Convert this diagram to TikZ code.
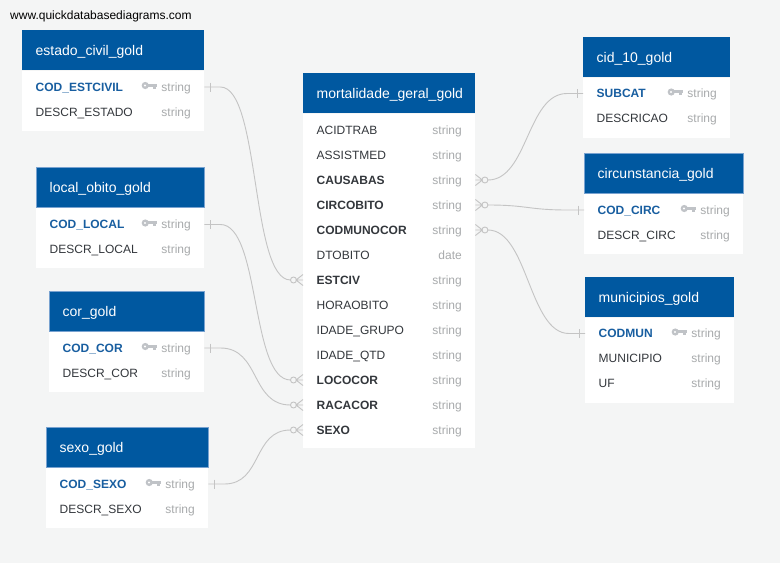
\documentclass[tikz,border=0pt]{standalone}
\usepackage{fontspec}
\setmainfont{Liberation Sans}
\usetikzlibrary{calc}
\definecolor{bg}{RGB}{244,245,245}
\definecolor{hdrblue}{RGB}{0,88,160}
\definecolor{hdredge}{RGB}{120,162,208}
\definecolor{pkblue}{RGB}{24,94,160}
\definecolor{fldtxt}{RGB}{51,55,60}
\definecolor{typgray}{RGB}{168,170,172}
\definecolor{keygray}{RGB}{192,195,199}
\definecolor{conngray}{RGB}{196,196,196}
\newcommand\tbl[7]{%
  \node[#7, minimum width=#4, anchor=north west] (#1h) at (#2,#3) {};
  \node[title, anchor=west] (#1n) at ([xshift=13.5]#1h.west) {#6};
  \node[bodyb, minimum width=#4, minimum height=#5, anchor=north west] (#1b) at (#1h.south west) {};}
\newcommand\frow[7]{%
  \node[#1, anchor=west] (#2) at (#3,#5) {#6};
  \node[typ, anchor=east] (#2t) at (#4,#5) {#7};}
\newcommand\pkrow[6]{\frow{pk}{#1}{#2}{#3}{#4}{#5}{#6}\pic at ([xshift=-16,yshift=1.5]#1t.west) {keyicon};}
\begin{document}
\begin{tikzpicture}[x=1pt,y=-1pt,
  hdr/.style={fill=hdrblue, inner sep=0, minimum height=40},
  hdrE/.style={hdr, draw=hdredge, line width=0.8pt},
  title/.style={text=white, font=\fontsize{14}{16}\selectfont, inner sep=0, text height=10pt, text depth=0pt},
  bodyb/.style={fill=white, inner sep=0},
  fn/.style={text=fldtxt, font=\fontsize{12}{14}\selectfont, inner sep=0, text height=8.6pt, text depth=0pt},
  fk/.style={fn, font=\fontsize{12}{14}\selectfont\bfseries},
  pk/.style={fk, text=pkblue},
  typ/.style={fn, text=typgray},
  conn/.style={draw=conngray, line width=0.9pt},
  keyicon/.pic={
    \fill[keygray] (0,0) circle (3.6pt);
    \fill[white] (-0.3,0) circle (1.2pt);
    \fill[keygray] (2,-1.6) rectangle (12,1.4);
    \fill[keygray] (8,0) rectangle (11,3.4);},
  manymark/.pic={
    \draw[conn] (0,-5.5) -- (7,0) -- (0,5.5) (0,0) -- (6.5,0);
    \draw[conn] (9.5,0) circle (3pt);}
]
\fill[bg] (0,0) rectangle (780,563);
\useasboundingbox (0,0) rectangle (780,563);

\node[anchor=base west, inner sep=0, font=\fontsize{12}{14}\selectfont, text=black] (wm) at (10,19.5) {www.quickdatabasediagrams.com};

% estado_civil_gold
\tbl{ec}{22}{30}{182}{60}{estado\_civil\_gold}{hdr}
\pkrow{ec1}{35.5}{191}{87}{COD\_ESTCIVIL}{string}
\frow{fn}{ec2}{35.5}{191}{112}{DESCR\_ESTADO}{string}

% local_obito_gold
\tbl{lo}{36}{167}{168}{60}{local\_obito\_gold}{hdrE}
\pkrow{lo1}{49.5}{191}{224.5}{COD\_LOCAL}{string}
\frow{fn}{lo2}{49.5}{191}{249.5}{DESCR\_LOCAL}{string}

% cor_gold
\tbl{co}{49}{291}{155}{60}{cor\_gold}{hdrE}
\pkrow{co1}{62.5}{191}{348}{COD\_COR}{string}
\frow{fn}{co2}{62.5}{191}{373}{DESCR\_COR}{string}

% sexo_gold
\tbl{sx}{46}{427}{162}{60}{sexo\_gold}{hdrE}
\pkrow{sx1}{59.5}{195}{484}{COD\_SEXO}{string}
\frow{fn}{sx2}{59.5}{195}{509}{DESCR\_SEXO}{string}

% mortalidade_geral_gold
\tbl{mg}{303}{73}{172}{334}{mortalidade\_geral\_gold}{hdr}
\frow{fn}{mg1}{316.5}{462}{130}{ACIDTRAB}{string}
\frow{fn}{mg2}{316.5}{462}{155}{ASSISTMED}{string}
\frow{fk}{mg3}{316.5}{462}{180}{CAUSABAS}{string}
\frow{fk}{mg4}{316.5}{462}{205}{CIRCOBITO}{string}
\frow{fk}{mg5}{316.5}{462}{230}{CODMUNOCOR}{string}
\frow{fn}{mg6}{316.5}{462}{255}{DTOBITO}{date}
\frow{fk}{mg7}{316.5}{462}{280}{ESTCIV}{string}
\frow{fn}{mg8}{316.5}{462}{305}{HORAOBITO}{string}
\frow{fn}{mg9}{316.5}{462}{330}{IDADE\_GRUPO}{string}
\frow{fn}{mg10}{316.5}{462}{355}{IDADE\_QTD}{string}
\frow{fk}{mg11}{316.5}{462}{380}{LOCOCOR}{string}
\frow{fk}{mg12}{316.5}{462}{405}{RACACOR}{string}
\frow{fk}{mg13}{316.5}{462}{430}{SEXO}{string}

% cid_10_gold
\tbl{cid}{583}{37}{147}{60}{cid\_10\_gold}{hdr}
\pkrow{cid1}{596.5}{717}{93.5}{SUBCAT}{string}
\frow{fn}{cid2}{596.5}{717}{118.5}{DESCRICAO}{string}

% circunstancia_gold
\tbl{ci}{584}{153}{159}{60}{circunstancia\_gold}{hdrE}
\pkrow{ci1}{597.5}{730}{210}{COD\_CIRC}{string}
\frow{fn}{ci2}{597.5}{730}{235}{DESCR\_CIRC}{string}

% municipios_gold
\tbl{mu}{585}{277}{149}{85}{municipios\_gold}{hdr}
\pkrow{mu1}{598.5}{721}{333.5}{CODMUN}{string}
\frow{fn}{mu2}{598.5}{721}{358.5}{MUNICIPIO}{string}
\frow{fn}{mu3}{598.5}{721}{383.5}{UF}{string}

% left relations
\draw[conn] (ecb.east |- ec1) -- ++(16,0) .. controls +(40,0) and +(-40,0) .. ([xshift=-12.5]mgb.west |- mg7);
\draw[conn] ([xshift=6]ecb.east |- ec1) +(0,-4.5) -- +(0,4.5);
\pic[xscale=-1] at (mgb.west |- mg7) {manymark};

\draw[conn] (lob.east |- lo1) -- ++(16,0) .. controls +(40,0) and +(-40,0) .. ([xshift=-12.5]mgb.west |- mg11);
\draw[conn] ([xshift=6]lob.east |- lo1) +(0,-4.5) -- +(0,4.5);
\pic[xscale=-1] at (mgb.west |- mg11) {manymark};

\draw[conn] (cob.east |- co1) -- ++(16,0) .. controls +(40,0) and +(-40,0) .. ([xshift=-12.5]mgb.west |- mg12);
\draw[conn] ([xshift=6]cob.east |- co1) +(0,-4.5) -- +(0,4.5);
\pic[xscale=-1] at (mgb.west |- mg12) {manymark};

\draw[conn] (sxb.east |- sx1) -- ++(16,0) .. controls +(38,0) and +(-38,0) .. ([xshift=-12.5]mgb.west |- mg13);
\draw[conn] ([xshift=6]sxb.east |- sx1) +(0,-4.5) -- +(0,4.5);
\pic[xscale=-1] at (mgb.west |- mg13) {manymark};

% right relations
\draw[conn] ([xshift=12.5]mgb.east |- mg3) .. controls +(40,0) and +(-40,0) .. ([xshift=-16]cidb.west |- cid1) -- (cidb.west |- cid1);
\draw[conn] ([xshift=-6]cidb.west |- cid1) +(0,-4.5) -- +(0,4.5);
\pic at (mgb.east |- mg3) {manymark};

\draw[conn] ([xshift=12.5]mgb.east |- mg4) .. controls +(40,0) and +(-40,0) .. ([xshift=-16]cib.west |- ci1) -- (cib.west |- ci1);
\draw[conn] ([xshift=-6]cib.west |- ci1) +(0,-4.5) -- +(0,4.5);
\pic at (mgb.east |- mg4) {manymark};

\draw[conn] ([xshift=12.5]mgb.east |- mg5) .. controls +(40,0) and +(-40,0) .. ([xshift=-16]mub.west |- mu1) -- (mub.west |- mu1);
\draw[conn] ([xshift=-6]mub.west |- mu1) +(0,-4.5) -- +(0,4.5);
\pic at (mgb.east |- mg5) {manymark};
\end{tikzpicture}
\end{document}
